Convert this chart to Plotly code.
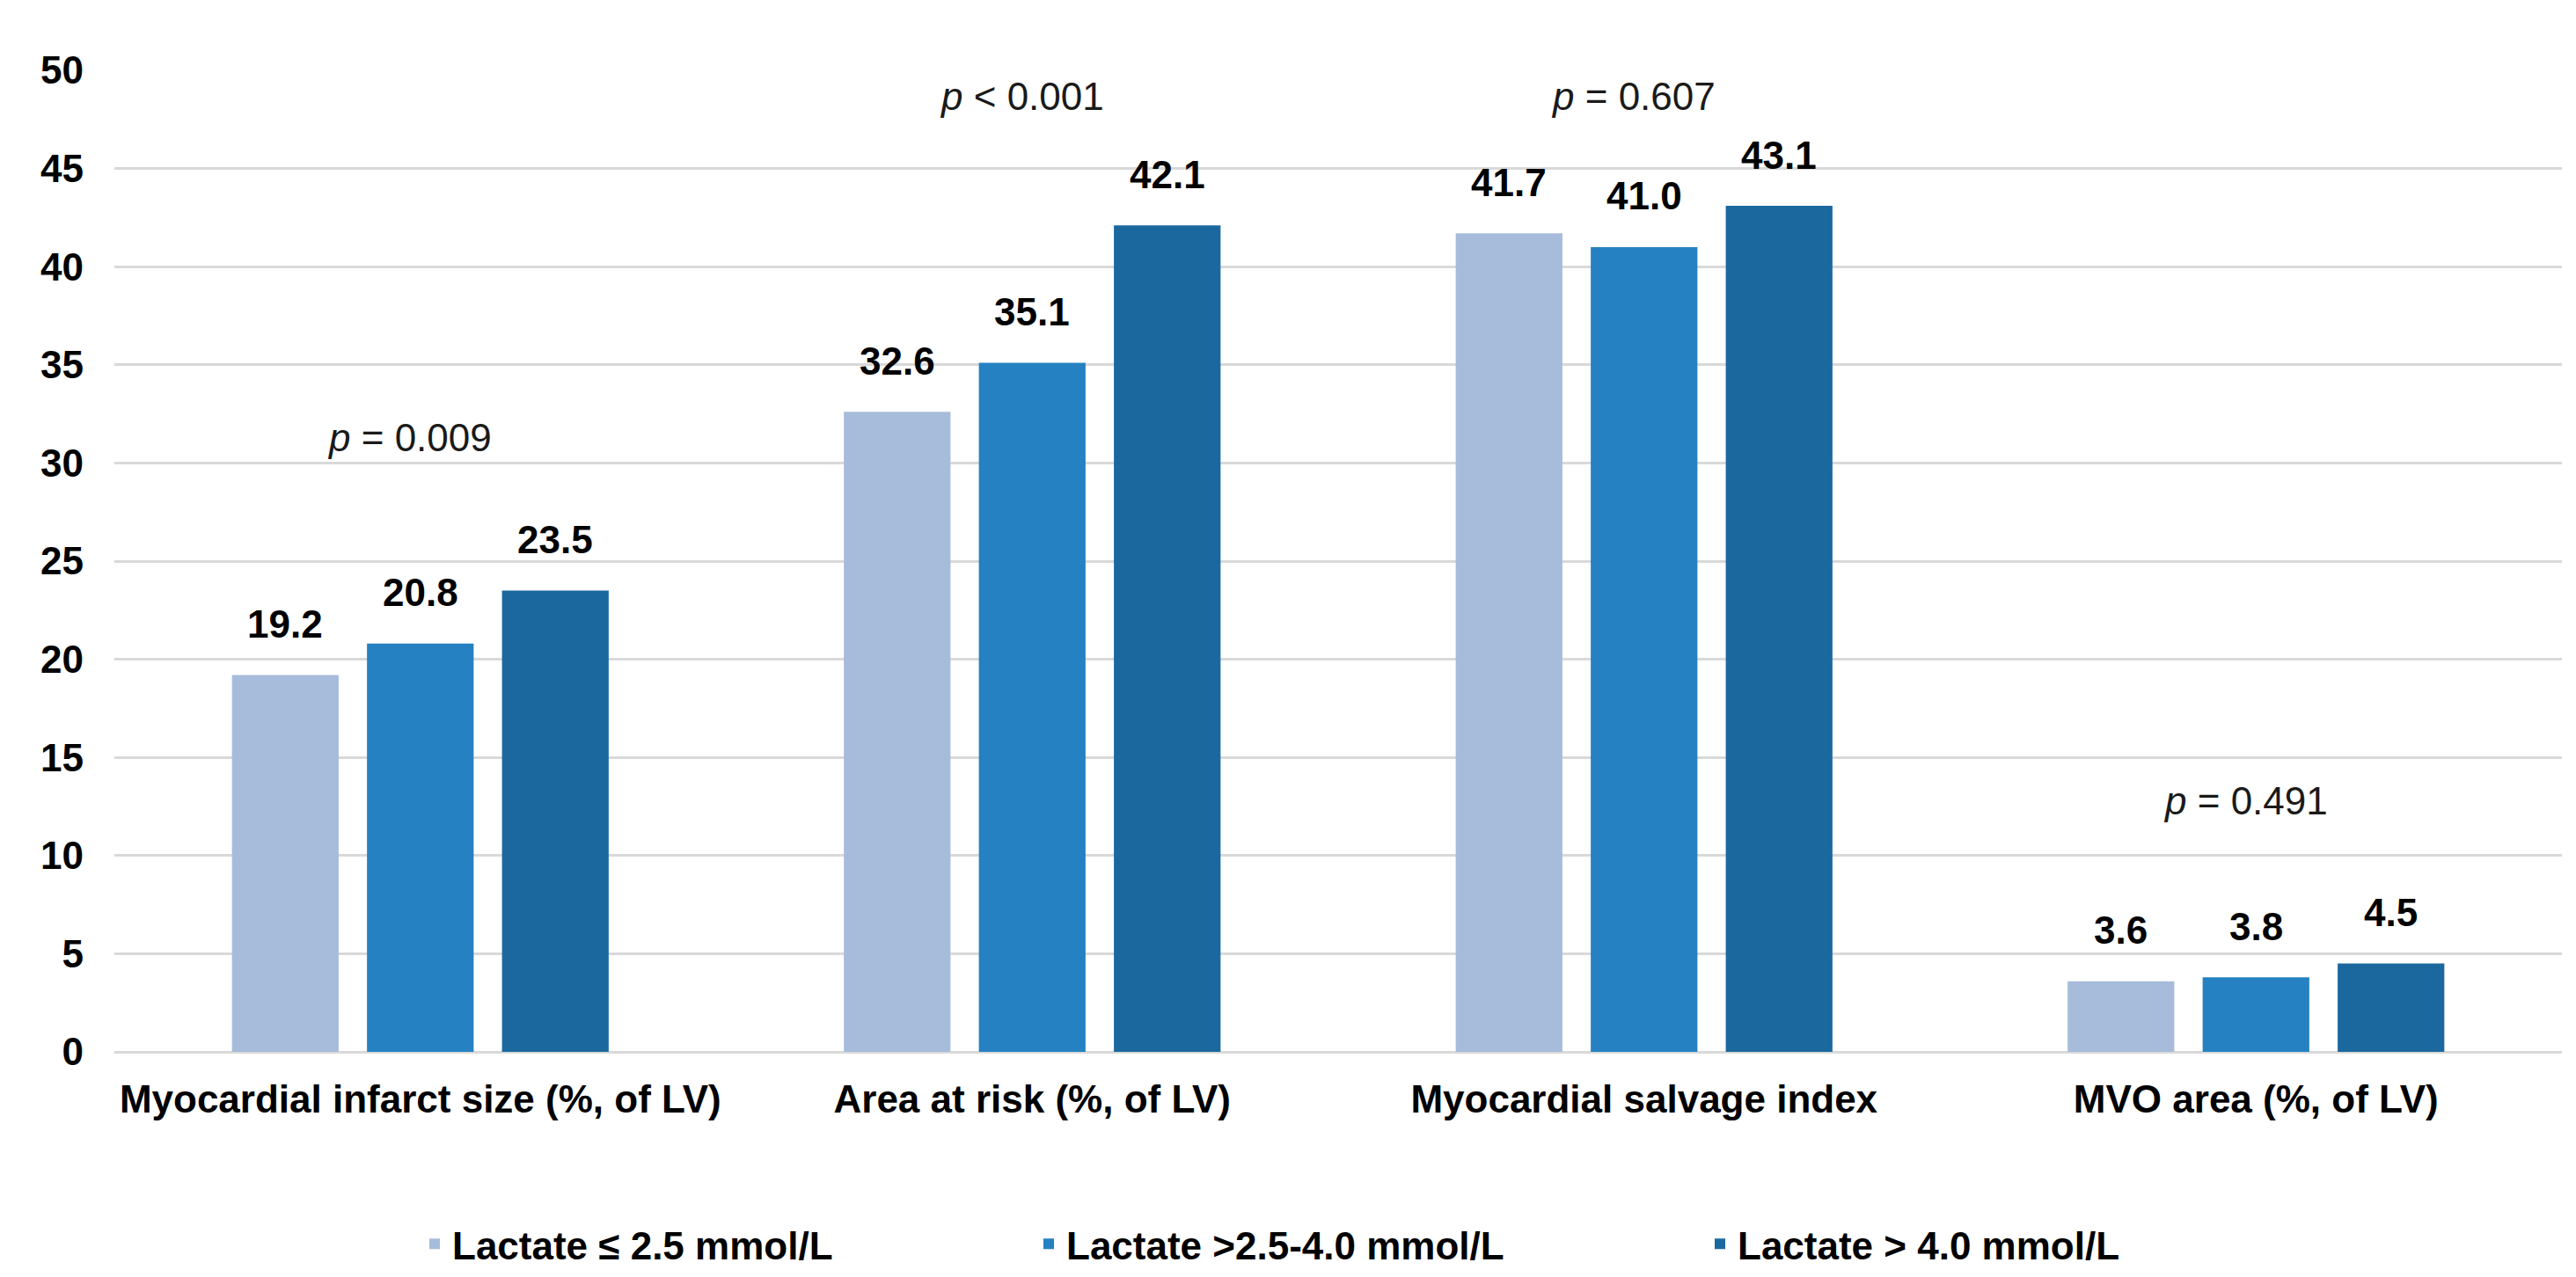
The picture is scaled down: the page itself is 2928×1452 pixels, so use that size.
import plotly.graph_objects as go

# ---- data ----
categories = [
    "Myocardial infarct size (%, of LV)",
    "Area at risk (%, of LV)",
    "Myocardial salvage index",
    "MVO area (%, of LV)",
]
series_names = [
    "Lactate \u2264 2.5 mmol/L",
    "Lactate >2.5-4.0 mmol/L",
    "Lactate > 4.0 mmol/L",
]
lactate_low = [19.2, 32.6, 41.7, 3.6]
lactate_mid = [20.8, 35.1, 41.0, 3.8]
lactate_high = [23.5, 42.1, 43.1, 4.5]
p_values = ["= 0.009", "< 0.001", "= 0.607", "= 0.491"]
y_ticks = [0, 5, 10, 15, 20, 25, 30, 35, 40, 45, 50]

series_values = [lactate_low, lactate_mid, lactate_high]
colors = ["#A7BCDB", "#2581C1", "#1B689F"]

# ---- layout geometry ----
W, H = 2928, 1452
ML, MR, MT, MB = 122, 24, 72, 264
BARGAP = 0.338
BARGROUPGAP = 0.21
plot_w = W - ML - MR
cat_px = plot_w / len(categories)
slot_px = (1 - BARGAP) * cat_px / len(series_values)

FONT = "Liberation Sans, Arial, sans-serif"

fig = go.Figure()
legend_ids = ["legend", "legend2", "legend3"]
for name, vals, col, lg in zip(series_names, series_values, colors, legend_ids):
    fig.add_trace(go.Bar(
        x=categories, y=vals, name=name,
        marker=dict(color=col, line=dict(width=0)),
        legend=lg,
    ))

annotations = []
# value labels above bars
for i, vals in enumerate(series_values):
    for cat, v in zip(categories, vals):
        annotations.append(dict(
            x=cat, y=v, text=f"{v:.1f}", showarrow=False,
            xshift=(i - 1) * slot_px, yshift=58, yanchor="middle",
            font=dict(family=FONT, size=44, color="#000000", weight="bold"),
        ))

# p-value annotations (positions in axis units)
p_y_pos = [31.3, 48.7, 48.7, 12.8]
for cat, ptxt, py in zip(categories, p_values, p_y_pos):
    annotations.append(dict(
        x=cat, y=py, text=f"<i>p</i> {ptxt}", showarrow=False,
        xshift=-12, yanchor="middle",
        font=dict(family=FONT, size=44, color="#1a1a1a"),
    ))

legend_common = dict(
    orientation="h", yanchor="middle", y=-0.196, xanchor="left",
    font=dict(family=FONT, size=44, color="#000000", weight="bold"),
    bgcolor="rgba(0,0,0,0)", borderwidth=0,
)
fig.update_layout(
    width=W, height=H, autosize=False,
    margin=dict(l=ML, r=MR, t=MT, b=MB, pad=0, autoexpand=False),
    paper_bgcolor="white", plot_bgcolor="white",
    barmode="group", bargap=BARGAP, bargroupgap=BARGROUPGAP,
    showlegend=True,
    legend=dict(x=(466 - ML) / plot_w, **legend_common),
    legend2=dict(x=(1164 - ML) / plot_w, **legend_common),
    legend3=dict(x=(1927 - ML) / plot_w, **legend_common),
    annotations=annotations,
    xaxis=dict(
        type="category", showgrid=False, showline=False, ticks="",
        automargin=False,
        tickfont=dict(family=FONT, size=44, color="#000000", weight="bold"),
        ticklabelstandoff=24,
    ),
    yaxis=dict(
        range=[0, 50], tickvals=y_ticks, showgrid=True,
        automargin=False,
        gridcolor="#D9D9D9", gridwidth=3,
        zeroline=True, zerolinecolor="#D9D9D9", zerolinewidth=3,
        showline=False, ticks="",
        tickfont=dict(family=FONT, size=44, color="#000000", weight="bold"),
        ticklabelstandoff=34,
    ),
)

fig.write_html("out.html")
